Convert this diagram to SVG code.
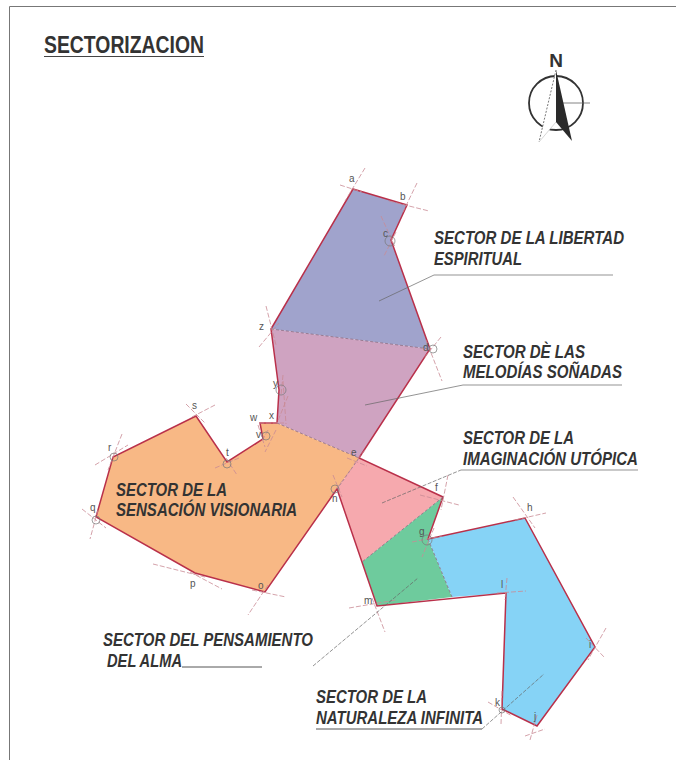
<svg xmlns="http://www.w3.org/2000/svg" width="676" height="760" viewBox="0 0 676 760">
<style>
.lb{font-family:"Liberation Sans",Arial,sans-serif;font-weight:700;font-style:italic;font-size:18px;fill:#333}
.v{font-family:"Liberation Sans",Arial,sans-serif;font-size:10px;fill:#555}
.edge{fill:none;stroke:#b9304a;stroke-width:1.5;stroke-linejoin:miter}
.div{fill:none;stroke:#8a6a80;stroke-width:.8;stroke-dasharray:3 2}
.con{fill:none;stroke:#c98a94;stroke-width:.8;stroke-dasharray:5 2}
.arc{fill:none;stroke:#777;stroke-width:.7}
.lead{fill:none;stroke:#666;stroke-width:.7}
.lead2{fill:none;stroke:#666;stroke-width:.7;stroke-dasharray:4 1.5}
.ul{fill:none;stroke:#555;stroke-width:1}
</style>
<rect width="676" height="760" fill="#fff"/>
<path d="M9.500 760V6.500H676" fill="none" stroke="#777" stroke-width="1"/>
<g id="title">
<text x="44" y="52.500" font-family="Liberation Sans, Arial, sans-serif" font-weight="700" font-size="23" fill="#333" textLength="160" lengthAdjust="spacingAndGlyphs">SECTORIZACION</text>
<path d="M44 56.500H204" stroke="#444" stroke-width="1"/>
</g>
<g id="north">
<text x="556" y="67" text-anchor="middle" font-family="Liberation Sans, Arial, sans-serif" font-weight="700" font-size="19" fill="#333">N</text>
<circle cx="556" cy="103" r="27" fill="none" stroke="#333" stroke-width="1.800"/>
<path d="M563 103H590" stroke="#666" stroke-width=".8"/>
<path d="M556 70L539 142L556 122Z" fill="#fff"/>
<path d="M556 70L539 142" fill="none" stroke="#555" stroke-width=".8" stroke-dasharray="2 1.500"/>
<path d="M539 142L556 122" fill="none" stroke="#bbb" stroke-width=".6"/>
<path d="M556 70L572 141L556 122Z" fill="#2a2a2a"/>
</g>
<g id="sector-libertad">
<polygon points="353,189 407,205 391,240 430,349 271,329" fill="#a0a3cc"/>
</g>
<g id="sector-melodias">
<polygon points="271,329 430,349 359,458 277,423 279,390" fill="#cfa3c1"/>
</g>
<g id="sector-sensacion">
<polygon points="277,423 359,458 337,489 265,592 195,573 96,517 113,457 196,416 227,462 263,439 260,423" fill="#f8b885"/>
</g>
<g id="sector-imaginacion">
<polygon points="359,458 443,497 362,562 337,489" fill="#f6a9ae"/>
</g>
<g id="sector-pensamiento">
<polygon points="443,497 428,539 452,597 377,606 362,562" fill="#6ecb9d"/>
</g>
<g id="sector-naturaleza">
<polygon points="428,539 525,518 595,647 537,726 502,709 506,593 452,597" fill="#86d3f6"/>
</g>
<g id="connectors">
<path class="edge" d="M353 189L407 205L391 240L430 349L359 458L443 497L428 539L525 518L595 647L537 726L502 709L506 593L377 606L337 489L265 592L195 573L96 517L113 457L196 416L227 462L263 439L260 423H277L279 390L271 329Z"/>
<path class="div" d="M271 329L430 349M277 423L359 458L337 489M443 497L362 562M428 539L452 597"/>
<path class="con" d="M340 185L362 192M365 168L345 201M389 201L429 211M417 183L403 212M381 216L395 247M396 232L384 256M441 337L424 358M426 340L442 381M266 306L276 345M259 347L279 323M283 375L281 396M283 381L286 424M288 396L277 423M259 423H284M258 425L265 447M268 430L262 441M276 430L265 452M215 468L239 458M226 458L237 475M186 404L205 423M215 405L190 418M95 465L128 445M122 434L108 470M82 509L106 528M98 510L90 539M153 564L205 577M190 572L222 589M252 590L286 597M268 585L248 615M333 475L342 497M352 468L330 497M347 458L367 466M365 450L354 464M420 495L459 505M448 475L441 510M412 542L442 536M434 528L422 557M513 497L535 528M515 520L546 513M586 638L604 657M606 628L588 660M488 702L512 716M502 691L501 725M525 736L545 729M537 715L530 740M349 608L396 600M372 598L385 632M497 593L526 591M507 578L505 600"/>
<circle class="arc" cx="390" cy="241" r="5"/><circle class="arc" cx="433" cy="349" r="4"/><circle class="arc" cx="281" cy="390" r="5"/><circle class="arc" cx="335" cy="489" r="4"/><circle class="arc" cx="114" cy="457" r="4"/><circle class="arc" cx="96" cy="520" r="4"/><circle class="arc" cx="227" cy="464" r="4"/><circle class="arc" cx="427" cy="540" r="5"/><circle class="arc" cx="266" cy="436" r="4"/><circle class="arc" cx="502" cy="710" r="3"/>
<path class="lead" d="M379 301L434 275H613"/>
<path class="lead" d="M365 405L463 385H622"/>
<path class="lead2" d="M382 503L461 470"/>
<path class="lead" d="M461 470H638"/>
<path class="ul" d="M182 667H262"/>
<path class="lead2" d="M313 666L418 578"/>
<path class="ul" d="M316 729H482"/>
<path class="lead2" d="M482 729L544 674"/>
</g>
<g id="vertex-labels">
<text class="v" x="349" y="182">a</text><text class="v" x="400" y="200">b</text><text class="v" x="383" y="237">c</text><text class="v" x="423" y="351">d</text><text class="v" x="351" y="456">e</text><text class="v" x="435" y="491">f</text><text class="v" x="419" y="535">g</text><text class="v" x="527" y="511">h</text><text class="v" x="589" y="648">i</text><text class="v" x="534" y="720">j</text><text class="v" x="495" y="706">k</text><text class="v" x="501" y="588">l</text><text class="v" x="364" y="604">m</text><text class="v" x="332" y="502">n</text><text class="v" x="258" y="589">o</text><text class="v" x="190" y="587">p</text><text class="v" x="90" y="511">q</text><text class="v" x="108" y="451">r</text><text class="v" x="192" y="409">s</text><text class="v" x="226" y="456">t</text><text class="v" x="256" y="438">v</text><text class="v" x="250" y="421">w</text><text class="v" x="269" y="419">x</text><text class="v" x="273" y="387">y</text><text class="v" x="259" y="330">z</text>
</g>
<g id="labels">
<text class="lb" x="434" y="244" textLength="190" lengthAdjust="spacingAndGlyphs">SECTOR DE LA LIBERTAD</text>
<text class="lb" x="434" y="265" textLength="88" lengthAdjust="spacingAndGlyphs">ESPIRITUAL</text>
<text class="lb" x="463" y="358" textLength="122" lengthAdjust="spacingAndGlyphs">SECTOR DÈ LAS</text>
<text class="lb" x="463" y="378" textLength="159" lengthAdjust="spacingAndGlyphs">MELODÍAS SOÑADAS</text>
<text class="lb" x="463" y="444" textLength="111" lengthAdjust="spacingAndGlyphs">SECTOR DE LA</text>
<text class="lb" x="463" y="465" textLength="175" lengthAdjust="spacingAndGlyphs">IMAGINACIÓN UTÓPICA</text>
<text class="lb" x="116" y="496" textLength="111" lengthAdjust="spacingAndGlyphs">SECTOR DE LA</text>
<text class="lb" x="116" y="516" textLength="181" lengthAdjust="spacingAndGlyphs">SENSACIÓN VISIONARIA</text>
<text class="lb" x="103" y="646" textLength="210" lengthAdjust="spacingAndGlyphs">SECTOR DEL PENSAMIENTO</text>
<text class="lb" x="107" y="667" textLength="75" lengthAdjust="spacingAndGlyphs">DEL ALMA</text>
<text class="lb" x="316" y="703" textLength="111" lengthAdjust="spacingAndGlyphs">SECTOR DE LA</text>
<text class="lb" x="316" y="724" textLength="167" lengthAdjust="spacingAndGlyphs">NATURALEZA INFINITA</text>
</g>
</svg>
